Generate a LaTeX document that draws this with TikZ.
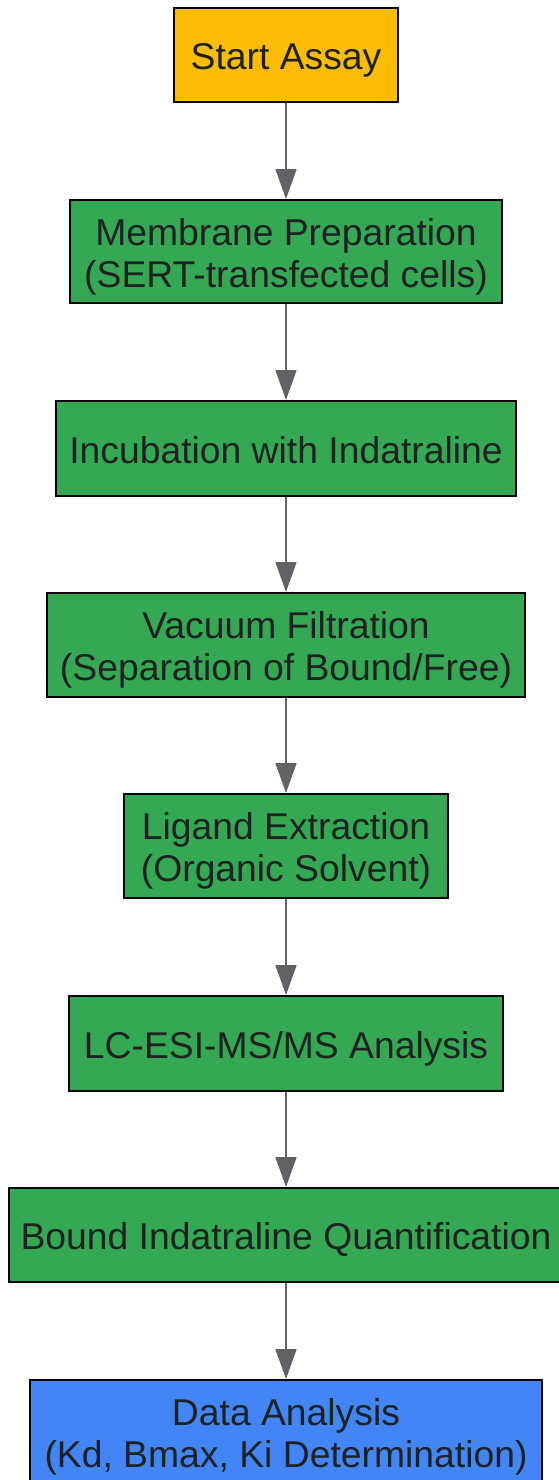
\documentclass[tikz,border=0pt]{standalone}
\usepackage{fontspec}
\setmainfont{Liberation Sans}
\usetikzlibrary{arrows.meta}
\definecolor{cStart}{HTML}{FBBC05}
\definecolor{cGreen}{HTML}{34A853}
\definecolor{cBlue}{HTML}{4285F4}
\definecolor{cEdge}{HTML}{5F6368}
\definecolor{cText}{HTML}{202124}
\newcommand{\topstrutx}{\rule{0pt}{38pt}}
\newcommand{\botstrutx}{\rule[-9pt]{0pt}{9pt}}
\begin{document}
\begin{tikzpicture}[x=1pt,y=-1pt,
  box/.style={draw=black, line width=2pt, rectangle, inner sep=0pt, align=center,
    text=cText, font=\fontsize{37.3}{42}\selectfont},
  flow/.style={draw=cEdge, line width=1.8pt, -{Triangle[length=30pt,width=21pt]}}]
\useasboundingbox (0,0) rectangle (559,1480);
\node[box, fill=cStart, minimum width=224pt, minimum height=94pt] (n1) at (286,55) {\topstrutx Start Assay\botstrutx};
\node[box, fill=cGreen, minimum width=432pt, minimum height=103pt] (n2) at (286,251.5) {\topstrutx Membrane Preparation\\(SERT-transfected cells)\botstrutx};
\node[box, fill=cGreen, minimum width=460pt, minimum height=95pt] (n3) at (286,448.5) {\topstrutx Incubation with Indatraline\botstrutx};
\node[box, fill=cGreen, minimum width=478pt, minimum height=104pt] (n4) at (286,645) {\topstrutx Vacuum Filtration\\(Separation of Bound/Free)\botstrutx};
\node[box, fill=cGreen, minimum width=324pt, minimum height=104pt] (n5) at (286,846) {\topstrutx Ligand Extraction\\(Organic Solvent)\botstrutx};
\node[box, fill=cGreen, minimum width=434pt, minimum height=95pt] (n6) at (286,1043.5) {\topstrutx LC-ESI-MS/MS Analysis\botstrutx};
\node[box, fill=cGreen, minimum width=554pt, minimum height=94pt] (n7) at (286,1235) {\topstrutx Bound Indatraline Quantification\botstrutx};
\node[box, fill=cBlue, minimum width=512pt, minimum height=103pt] (n8) at (286,1431.5) {\topstrutx Data Analysis\\(Kd, Bmax, Ki Determination)\botstrutx};
\draw[flow] (n1) -- (n2);
\draw[flow] (n2) -- (n3);
\draw[flow] (n3) -- (n4);
\draw[flow] (n4) -- (n5);
\draw[flow] (n5) -- (n6);
\draw[flow] (n6) -- (n7);
\draw[flow] (n7) -- (n8);
\end{tikzpicture}
\end{document}
